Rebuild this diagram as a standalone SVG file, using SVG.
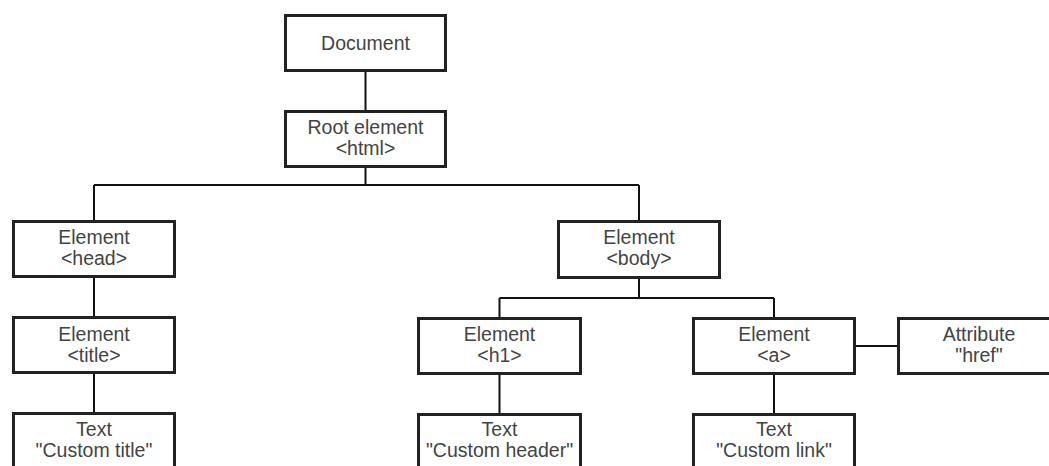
<svg xmlns="http://www.w3.org/2000/svg" width="1049" height="466" viewBox="0 0 1049 466">
<style>
.box{fill:#fff;stroke:#222;stroke-width:3}
.lbl{font-family:"Liberation Sans",Arial,sans-serif;font-size:19.5px;fill:#444;text-anchor:middle}
.conn{stroke:#111;stroke-width:2;fill:none}
</style>
<rect width="1049" height="466" fill="#fff"/>
<g id="connectors">
<path class="conn" d="M365.5 72V110 M365.5 168V185 M94 185H639 M94 185V220 M639 185V220 M94 278V316 M94 374V412 M639 279V298 M499.5 298H774 M499.5 298V317 M774 298V317 M499.5 375V413 M774 375V413 M856 346H897"/>
</g>
<g id="document"><rect class="box" x="285.5" y="15.5" width="160" height="55"/><text class="lbl" x="365.5" y="49.5">Document</text></g>
<g id="root"><rect class="box" x="285.5" y="111.5" width="160" height="55"/><text class="lbl" x="365.5" y="133.5">Root element</text><text class="lbl" x="365.5" y="155">&lt;html&gt;</text></g>
<g id="head"><rect class="box" x="13.5" y="221.5" width="161" height="55"/><text class="lbl" x="94" y="244">Element</text><text class="lbl" x="94" y="265">&lt;head&gt;</text></g>
<g id="body"><rect class="box" x="558.5" y="221.5" width="161" height="56"/><text class="lbl" x="639" y="244">Element</text><text class="lbl" x="639" y="265">&lt;body&gt;</text></g>
<g id="title"><rect class="box" x="13.5" y="317.5" width="161" height="55"/><text class="lbl" x="94" y="341">Element</text><text class="lbl" x="94" y="362">&lt;title&gt;</text></g>
<g id="h1"><rect class="box" x="418.5" y="318.5" width="162" height="55"/><text class="lbl" x="499.5" y="341">Element</text><text class="lbl" x="499.5" y="362">&lt;h1&gt;</text></g>
<g id="a"><rect class="box" x="693.5" y="318.5" width="161" height="55"/><text class="lbl" x="774" y="341">Element</text><text class="lbl" x="774" y="362">&lt;a&gt;</text></g>
<g id="attr"><rect class="box" x="898.5" y="318.5" width="161" height="55"/><text class="lbl" x="979" y="341">Attribute</text><text class="lbl" x="979" y="362">"href"</text></g>
<g id="text-title"><rect class="box" x="13.5" y="413.5" width="161" height="70"/><text class="lbl" x="94" y="436">Text</text><text class="lbl" x="94" y="457">"Custom title"</text></g>
<g id="text-header"><rect class="box" x="418.5" y="414.5" width="162" height="70"/><text class="lbl" x="499.5" y="436">Text</text><text class="lbl" x="499.5" y="457">"Custom header"</text></g>
<g id="text-link"><rect class="box" x="693.5" y="414.5" width="161" height="70"/><text class="lbl" x="774" y="436">Text</text><text class="lbl" x="774" y="457">"Custom link"</text></g>
</svg>
